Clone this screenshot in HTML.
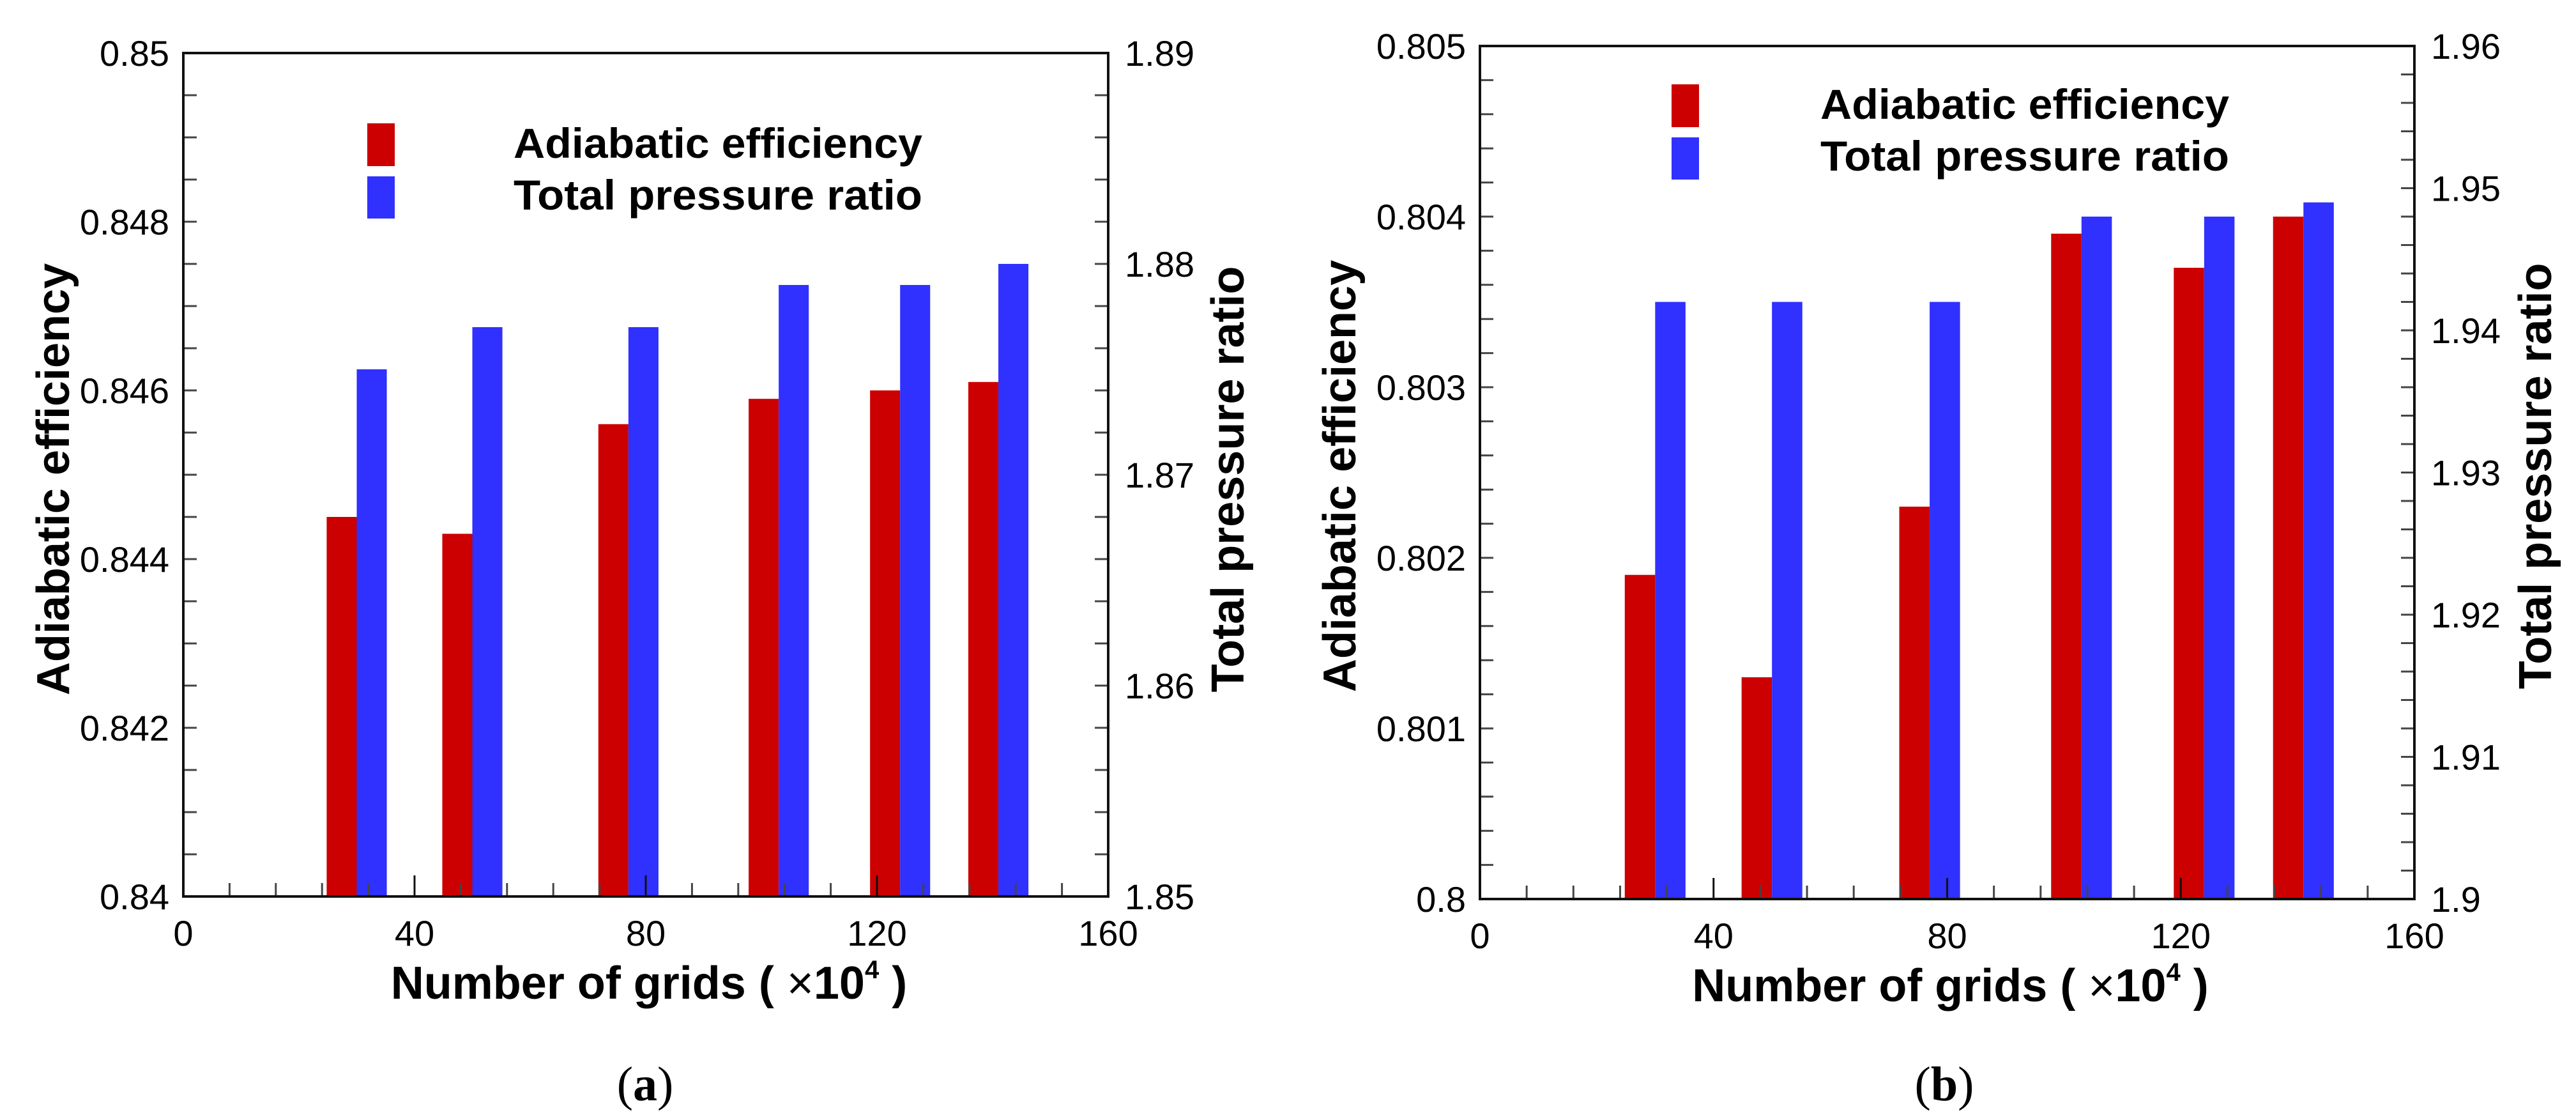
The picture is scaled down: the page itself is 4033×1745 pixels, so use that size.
<!DOCTYPE html>
<html><head><meta charset="utf-8"><style>
html,body{margin:0;padding:0;background:#fff;}
svg{display:block;}
text{font-family:"Liberation Sans",Arial,sans-serif;fill:#000;}
</style></head>
<body>
<svg id="chart" width="4033" height="1745" viewBox="0 0 4033 1745" xmlns="http://www.w3.org/2000/svg"></svg>
<script>
// Shared categories (grid count, x10^4)
const gridCounts = [30, 50, 77, 103, 124, 141];
// Panel (a)
const effA = [0.8445, 0.8443, 0.8456, 0.8459, 0.8460, 0.8461];
const prA = [1.875, 1.877, 1.877, 1.879, 1.879, 1.880];
const leftTicksA = ["0.84", "0.842", "0.844", "0.846", "0.848", "0.85"];
const rightTicksA = ["1.85", "1.86", "1.87", "1.88", "1.89"];
// Panel (b)
const effB = [0.8019, 0.8013, 0.8023, 0.8039, 0.8037, 0.8040];
const prB = [1.942, 1.942, 1.942, 1.948, 1.948, 1.949];
const leftTicksB = ["0.8", "0.801", "0.802", "0.803", "0.804", "0.805"];
const rightTicksB = ["1.9", "1.91", "1.92", "1.93", "1.94", "1.95", "1.96"];
const xTicks = ["0", "40", "80", "120", "160"];

const NS = "http://www.w3.org/2000/svg";
const svg = document.getElementById("chart");
function mk(tag, attrs, parent, txt) {
  const e = document.createElementNS(NS, tag);
  for (const k in attrs) e.setAttribute(k, attrs[k]);
  if (txt !== undefined) e.textContent = txt;
  (parent || svg).appendChild(e);
  return e;
}

function panel(cfg) {
  const g = mk("g", {});
  
  
  const L = cfg.left, R = cfg.right, T = cfg.top, B = cfg.bottom;
  const lMin = parseFloat(cfg.lTicks[0]), lMax = parseFloat(cfg.lTicks[cfg.lTicks.length - 1]);
  const rMin = parseFloat(cfg.rTicks[0]), rMax = parseFloat(cfg.rTicks[cfg.rTicks.length - 1]);
  const xMin = 0, xMax = 160;
  const sx = v => L + (v - xMin) / (xMax - xMin) * (R - L);
  const syL = v => B - (v - lMin) / (lMax - lMin) * (B - T);
  const syR = v => B - (v - rMin) / (rMax - rMin) * (B - T);
  const bw = 5.2;

  for (let i = 0; i < gridCounts.length; i++) {
    const x = gridCounts[i];
    const r = mk("rect", {x: sx(x - bw), y: syL(cfg.eff[i]), width: sx(x) - sx(x - bw), height: B - syL(cfg.eff[i]), fill: "#cc0000"}, g);
    
    
    const b = mk("rect", {x: sx(x), y: syR(cfg.pr[i]), width: sx(x + bw) - sx(x), height: B - syR(cfg.pr[i]), fill: "#3030ff"}, g);
    
    
  }

  for (let i = 0; i <= cfg.lMinor; i++) {
    const y = T + i * (B - T) / cfg.lMinor;
    mk("line", {x1: L, x2: L + 21, y1: y, y2: y, stroke: "#444", "stroke-width": 3}, g);
  }
  for (let i = 0; i <= cfg.rMinor; i++) {
    const y = T + i * (B - T) / cfg.rMinor;
    mk("line", {x1: R, x2: R - 21, y1: y, y2: y, stroke: "#444", "stroke-width": 3}, g);
  }
  for (let i = 0; i <= 20; i++) {
    const v = i * 8;
    const x = sx(v);
    const major = v % 40 === 0;
    mk("line", {x1: x, x2: x, y1: B, y2: B - (major ? 33 : 21), stroke: major ? "#111" : "#444", "stroke-width": 3}, g);
  }
  const f = mk("rect", {x: L, y: T, width: R - L, height: B - T, fill: "none", stroke: "#111", "stroke-width": 4}, g);
  
  

  cfg.lTicks.forEach(t => {
    const e = mk("text", {x: L - 22, y: syL(parseFloat(t)) + 20, "font-size": 56, "text-anchor": "end"}, g, t);
    
    
  });
  cfg.rTicks.forEach(t => {
    const e = mk("text", {x: R + 26, y: syR(parseFloat(t)) + 20, "font-size": 56, "text-anchor": "start"}, g, t);
    
    
  });
  xTicks.forEach(t => {
    const e = mk("text", {x: sx(parseFloat(t)), y: B + 77, "font-size": 56, "text-anchor": "middle"}, g, t);
    
    
  });

  const xt = mk("text", {x: (cfg.xtL + cfg.xtR) / 2, y: B + 160, "font-size": 72, "font-weight": "bold", "text-anchor": "middle"}, g);
  
  
  mk("tspan", {}, xt, "Number of grids ( ");
  mk("tspan", {"font-weight": "normal"}, xt, "\u00d7");
  mk("tspan", {}, xt, "10");
  mk("tspan", {"font-size": 40, dy: -32}, xt, "4");
  mk("tspan", {dy: 32}, xt, " )");

  const yt = mk("text", {x: 0, y: 0, "font-size": 72, "font-weight": "bold", "text-anchor": "middle", transform: `translate(${cfg.ylX},${cfg.ylY}) rotate(-90)`}, g, "Adiabatic efficiency");
  
  
  const rt = mk("text", {x: 0, y: 0, "font-size": 72, "font-weight": "bold", "text-anchor": "middle", transform: `translate(${cfg.yrX},${cfg.ylY}) rotate(-90)`}, g, "Total pressure ratio");
  
  

  const lg = mk("g", {}, g);
  
  
  const s1 = mk("rect", {x: cfg.legX, y: cfg.legY, width: 43, height: 67, fill: "#cc0000"}, lg);
  
  
  const s2 = mk("rect", {x: cfg.legX, y: cfg.legY + 83, width: 43, height: 66, fill: "#3030ff"}, lg);
  
  
  const l1 = mk("text", {x: cfg.legTX, y: cfg.legY + 54, "font-size": 66, "font-weight": "bold", textLength: 640, lengthAdjust: "spacingAndGlyphs"}, lg, "Adiabatic efficiency");
  
  
  const l2 = mk("text", {x: cfg.legTX, y: cfg.legY + 135, "font-size": 66, "font-weight": "bold", textLength: 640, lengthAdjust: "spacingAndGlyphs"}, lg, "Total pressure ratio");
  
  

  const cap = mk("text", {x: cfg.capX, y: 1722, "font-size": 76, "text-anchor": "middle", style: "font-family:'Liberation Serif',serif"}, g);
  
  
  mk("tspan", {}, cap, "(");
  mk("tspan", {"font-weight": "bold"}, cap, cfg.cap);
  mk("tspan", {}, cap, ")");
}

panel({name: "panel-a", left: 287, right: 1735, top: 83, bottom: 1403,
  eff: effA, pr: prA, lTicks: leftTicksA, rTicks: rightTicksA, lMinor: 20, rMinor: 20,
  xtL: 630, xtR: 1402, ylX: 108, yrX: 1947, ylY: 750,
  legX: 575, legY: 193, legTX: 804, capX: 1010, cap: "a"});
panel({name: "panel-b", left: 2317, right: 3780, top: 72, bottom: 1407,
  eff: effB, pr: prB, lTicks: leftTicksB, rTicks: rightTicksB, lMinor: 25, rMinor: 30,
  xtL: 2662, xtR: 3445, ylX: 2122, yrX: 3994, ylY: 745,
  legX: 2617, legY: 132, legTX: 2850, capX: 3044, cap: "b"});
</script>
</body></html>
